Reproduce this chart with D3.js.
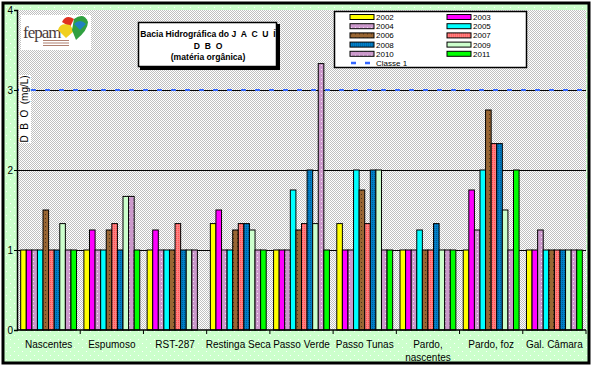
<!DOCTYPE html>
<html>
<head>
<meta charset="utf-8">
<script src="https://cdn.jsdelivr.net/npm/d3@7"></script>
<style>
  body { margin: 0; background: #fff; }
  svg { display: block; font-family: Arial, "Liberation Sans", sans-serif; }
</style>
</head>
<body>
<svg id="chart" width="592" height="367"></svg>
<script>
// categories (sampling points) and years
const categories = ["Nascentes", "Espumoso", "RST-287", "Restinga Seca", "Passo Verde",
                    "Passo Tunas", "Pardo, nascentes", "Pardo, foz", "Gal. Câmara"];
const years = ["2002", "2003", "2004", "2005", "2006", "2007", "2008", "2009", "2010", "2011"];

// DBO (mg/L) per year, one value per category
const v2002 = [1, 1, 1, 1.33, 1, 1.33, 1, 1, 1];
const v2003 = [1, 1.25, 1.25, 1.5, 1, 1, 1, 1.75, 1];
const v2004 = [1, 1, 1, 1, 1, 1, 1, 1.25, 1.25];
const v2005 = [1, 1, 1, 1, 1.75, 2, 1.25, 2, 1];
const v2006 = [1.5, 1.25, 1, 1.25, 1.25, 1.75, 1, 2.75, 1];
const v2007 = [1, 1.33, 1.33, 1.33, 1.33, 1.33, 1, 2.33, 1];
const v2008 = [1, 1, 1, 1.33, 2, 2, 1.33, 2.33, 1];
const v2009 = [1.33, 1.67, 1, 1.25, 1.33, 2, 1, 1.5, 1];
const v2010 = [1, 1.67, 1, 1, 3.33, 1, 1, 1, 1];
const v2011 = [1, 1, null, 1, 1, 1, 1, 2, 1];

const classe1 = 3;
const yTicks = [0, 1, 2, 3, 4];

const seriesValues = [v2002, v2003, v2004, v2005, v2006, v2007, v2008, v2009, v2010, v2011];

const svg = d3.select("#chart");
const defs = svg.append("defs");

// --- fill patterns (excel-like) ---
function pattern(id, size, bg, dots) {
  const p = defs.append("pattern")
      .attr("id", id)
      .attr("width", size).attr("height", size)
      .attr("patternUnits", "userSpaceOnUse");
  p.append("rect").attr("width", size).attr("height", size).attr("fill", bg);
  dots.forEach(d => {
    p.append("rect").attr("x", d[0]).attr("y", d[1]).attr("width", 1).attr("height", 1).attr("fill", d[2]);
  });
}
pattern("bgGreen", 8, "#ccffcc", [[2, 3, "#ffffff"], [6, 7, "#ffffff"]]);
pattern("plotGrey", 2, "#ffffff", [[0, 0, "#c0c0c0"], [1, 1, "#c0c0c0"]]);
pattern("pinkDots", 4, "#cc99cc", [[1, 1, "#f4e4f4"]]);
pattern("brownDots", 4, "#996633", [[1, 2, "#4d3319"]]);
pattern("salmonCheck", 2, "#ff8080", [[0, 0, "#ff5050"]]);
pattern("blueCheck", 2, "#0080c8", [[0, 0, "#005a96"]]);

const colors = {
  "2002": "#ffff00", "2003": "#ff00ff", "2004": "url(#pinkDots)", "2005": "#00ffff",
  "2006": "url(#brownDots)", "2007": "url(#salmonCheck)", "2008": "url(#blueCheck)",
  "2009": "#ccffcc", "2010": "url(#pinkDots)", "2011": "#00ff00"
};

// outer background
svg.append("rect")
    .attr("x", 3).attr("y", 3).attr("width", 586).attr("height", 360)
    .attr("fill", "url(#bgGreen)");

const margin = {left: 17, right: 6, top: 10, bottom: 37};
const plotW = 592 - margin.left - margin.right;
const plotH = 367 - margin.top - margin.bottom;

const xScale = d3.scaleBand()
    .domain(categories)
    .range([margin.left, margin.left + plotW])
    .paddingInner(0).paddingOuter(0);

const xInner = d3.scaleBand()
    .domain(years)
    .range([0, xScale.bandwidth()])
    .paddingInner(0).paddingOuter(0.66);

const yScale = d3.scaleLinear()
    .domain([0, 4])
    .range([margin.top + plotH, margin.top]);

// plot area
svg.append("rect")
    .attr("x", margin.left).attr("y", margin.top)
    .attr("width", plotW).attr("height", plotH)
    .attr("fill", "url(#plotGrey)");

// gridlines
svg.append("g")
  .selectAll("line")
  .data(yTicks.filter(t => t > 0 && t < 4))
  .join("line")
    .attr("x1", margin.left).attr("x2", margin.left + plotW)
    .attr("y1", d => yScale(d)).attr("y2", d => yScale(d))
    .attr("stroke", "#000").attr("stroke-width", 1)
    .attr("shape-rendering", "crispEdges");

// bars
const barData = [];
years.forEach((yr, i) => {
  categories.forEach((c, j) => {
    const v = seriesValues[i][j];
    if (v != null) barData.push({year: yr, cat: c, value: v});
  });
});

svg.append("g")
  .selectAll("rect")
  .data(barData)
  .join("rect")
    .attr("x", d => xScale(d.cat) + xInner(d.year))
    .attr("y", d => yScale(d.value))
    .attr("width", xInner.bandwidth())
    .attr("height", d => yScale(0) - yScale(d.value))
    .attr("fill", d => colors[d.year])
    .attr("stroke", "#000").attr("stroke-width", 1);

// Classe 1 limit
svg.append("line")
    .attr("x1", margin.left).attr("x2", margin.left + plotW)
    .attr("y1", yScale(classe1)).attr("y2", yScale(classe1))
    .attr("stroke", "#3366ff").attr("stroke-width", 2)
    .attr("stroke-dasharray", "5,9");

// y axis
const yAxisG = svg.append("g")
    .attr("transform", `translate(${margin.left},0)`)
    .call(d3.axisLeft(yScale).tickValues(yTicks).tickSize(3).tickFormat(d3.format("d")));
yAxisG.select(".domain").attr("stroke-width", 1.5);
yAxisG.selectAll("text").attr("font-size", 10).attr("fill", "#000").attr("dx", 2);

// x axis
const xAxisG = svg.append("g")
    .attr("transform", `translate(0,${yScale(0)})`);
xAxisG.append("line")
    .attr("x1", margin.left).attr("x2", margin.left + plotW)
    .attr("stroke", "#000").attr("stroke-width", 1.5);
xAxisG.selectAll(".tk")
  .data(categories.slice(1).concat(["end"]))
  .join("line")
    .attr("class", "tk")
    .attr("x1", d => d === "end" ? margin.left + plotW : xScale(d))
    .attr("x2", d => d === "end" ? margin.left + plotW : xScale(d))
    .attr("y1", 0).attr("y2", 4)
    .attr("stroke", "#000");
const xl = xAxisG.selectAll(".lbl")
  .data(categories)
  .join("text")
    .attr("class", "lbl")
    .attr("x", d => xScale(d) + xScale.bandwidth() / 2)
    .attr("y", 18)
    .attr("text-anchor", "middle")
    .attr("font-size", 10)
    .attr("fill", "#000");
xl.each(function(d) {
  const parts = d === "Pardo, nascentes" ? ["Pardo,", "nascentes"] : [d];
  d3.select(this).selectAll("tspan")
    .data(parts)
    .join("tspan")
      .attr("x", xScale(d) + xScale.bandwidth() / 2)
      .attr("dy", (p, i) => i === 0 ? 0 : 13)
      .text(p => p);
});

// y axis title
svg.append("rect")
    .attr("x", 19).attr("y", 75).attr("width", 12).attr("height", 68)
    .attr("fill", "#fff");
svg.append("text")
    .attr("transform", "translate(28,109) rotate(-90)")
    .attr("text-anchor", "middle")
    .attr("font-size", 10)
    .attr("fill", "#000")
    .attr("xml:space", "preserve")
    .text("D  B  O  (mg/L)");

// title box
svg.append("rect")
    .attr("x", 140).attr("y", 24).attr("width", 140).attr("height", 46)
    .attr("fill", "#000");
svg.append("rect")
    .attr("x", 138.5).attr("y", 22.5).attr("width", 138).attr("height", 44)
    .attr("fill", "#fff").attr("stroke", "#000").attr("stroke-width", 1.5);
const titleLines = ["Bacia Hidrográfica do J  A  C  U  Í", "D  B  O", "(matéria orgânica)"];
svg.append("g").selectAll("text")
  .data(titleLines)
  .join("text")
    .attr("x", 208)
    .attr("y", (d, i) => 37 + i * 11.5)
    .attr("text-anchor", "middle")
    .attr("font-size", 8.6)
    .attr("font-weight", "bold")
    .attr("xml:space", "preserve")
    .text(d => d);

// legend
const legend = svg.append("g");
legend.append("rect")
    .attr("x", 334.5).attr("y", 11.5).attr("width", 192).attr("height", 56)
    .attr("fill", "#fff").attr("stroke", "#000").attr("stroke-width", 1.5);
const rowY = i => 17 + i * 9.2;
const legItems = legend.selectAll(".li")
  .data(years)
  .join("g")
    .attr("class", "li")
    .attr("transform", (d, i) => `translate(${i % 2 === 0 ? 350 : 447},${rowY(Math.floor(i / 2))})`);
legItems.append("rect")
    .attr("x", 0).attr("y", -2.5).attr("width", 24).attr("height", 5)
    .attr("fill", d => colors[d]).attr("stroke", "#000").attr("stroke-width", 1);
legItems.append("text")
    .attr("x", 26).attr("y", 3)
    .attr("font-size", 8)
    .text(d => d);
const cl = legend.append("g").attr("transform", `translate(350,${rowY(5)})`);
cl.append("line")
    .attr("x1", 1).attr("x2", 24)
    .attr("stroke", "#3366ff").attr("stroke-width", 2.5)
    .attr("stroke-dasharray", "5,9");
cl.append("text")
    .attr("x", 26).attr("y", 3)
    .attr("font-size", 8)
    .text("Classe 1");

// fepam logo (approximate)
const logo = svg.append("g");
logo.append("rect")
    .attr("x", 21).attr("y", 15).attr("width", 70).attr("height", 35)
    .attr("fill", "#fff");
logo.append("text")
    .attr("x", 23).attr("y", 38)
    .attr("font-family", "'Liberation Serif', 'DejaVu Serif', serif")
    .attr("font-size", 17)
    .attr("letter-spacing", -1)
    .attr("fill", "#4a3b3b")
    .text("fepam");
logo.append("g").selectAll("rect")
  .data([0, 1, 2])
  .join("rect")
    .attr("x", 43).attr("y", d => 40 + d * 2.5)
    .attr("width", 26).attr("height", 1)
    .attr("fill", "#b08070");
logo.append("path")
    .attr("d", "M62,22 Q66,14 74,19 L70,27 Z")
    .attr("fill", "#e03020");
logo.append("path")
    .attr("d", "M58,30 Q60,22 70,25 L74,31 L66,38 Z")
    .attr("fill", "#f0d020");
logo.append("path")
    .attr("d", "M74,19 Q84,12 88,22 Q88,30 76,40 L72,30 Z")
    .attr("fill", "#30a040");
logo.append("path")
    .attr("d", "M74,24 Q80,18 86,24 L80,30 Z")
    .attr("fill", "#2080c0");

// outer frame
svg.append("rect")
    .attr("x", 3).attr("y", 3).attr("width", 586).attr("height", 360)
    .attr("fill", "none").attr("stroke", "#000").attr("stroke-width", 3);
</script>
</body>
</html>
